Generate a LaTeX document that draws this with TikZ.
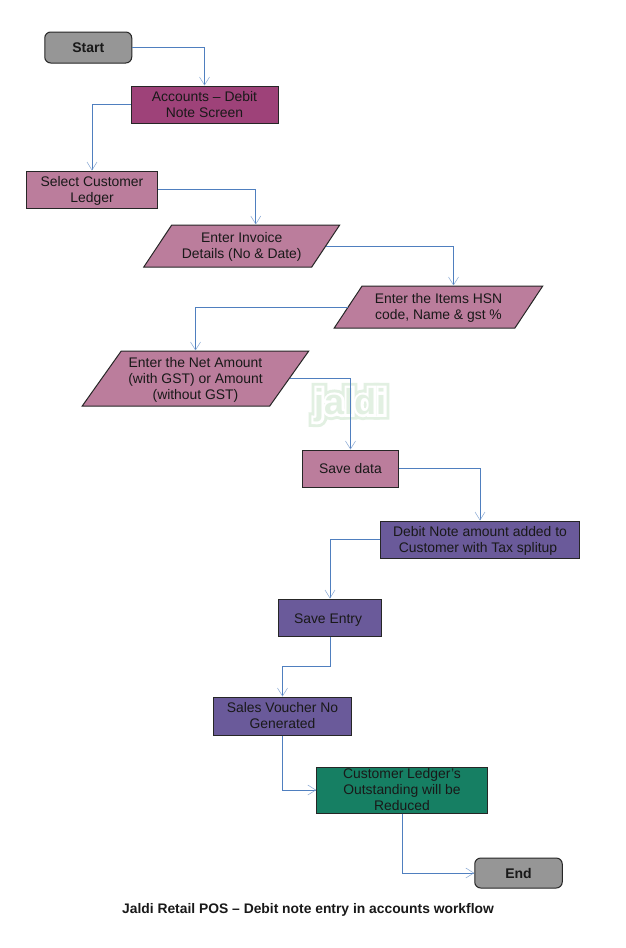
\documentclass[tikz,border=0pt]{standalone}
\usepackage{fontspec}
\setmainfont{Liberation Sans}
\newfontfamily\wmouter[FakeBold=30]{Liberation Sans}
\newfontfamily\wminner[FakeBold=14]{Liberation Sans}
\usetikzlibrary{arrows.meta,shapes.geometric,calc}
\definecolor{gstart}{HTML}{969696}
\definecolor{mag}{HTML}{9E4279}
\definecolor{pink}{HTML}{BB7D9C}
\definecolor{purp}{HTML}{6A5A9A}
\definecolor{grn}{HTML}{167F63}
\definecolor{conn}{HTML}{4F7FBF}
\definecolor{wm}{HTML}{E2F0E2}
\newcommand\dn{\rule{0pt}{12.5pt}}
\tikzset{
  base/.style={draw=black!85,line width=1pt,align=center,inner sep=0pt,text=black!90,
    font=\fontsize{13.9}{16}\selectfont},
  term/.style={base,rectangle,rounded corners=6pt,fill=gstart,
    font=\fontsize{14}{16}\selectfont\bfseries},
  para/.style={base,trapezium,trapezium stretches=true,fill=pink},
  conn/.style={draw=conn,line width=0.9pt,rounded corners=0pt,
    -{Straight Barb[length=8pt,width=10pt,line width=0.5pt,color=conn!70]}},
  wmark/.style={inner sep=0pt},
}
\begin{document}
\begin{tikzpicture}[x=1pt,y=-1pt]
\useasboundingbox[fill=white] (0,0) rectangle (626,948);
% watermark
\node[wmark,text=wm,font=\fontsize{36}{36}\selectfont\wmouter\bfseries] (wo) at (350.5,405) {jaldi};
\node[wmark,text=white,font=\fontsize{36}{36}\selectfont\wminner\bfseries] (wi) at (350.5,405) {jaldi};
\node[wmark,text=wm,font=\fontsize{36}{36}\selectfont\bfseries] (wm) at (350.5,405) {jaldi};
% nodes
\node[term,minimum width=87pt,minimum height=31pt] (start) at (88.25,47.5) {Start};
\node[base,fill=mag,minimum width=147pt,minimum height=37pt] (acc) at (204.5,104.5) {Accounts – Debit\\Note Screen};
\node[base,fill=pink,minimum width=130.5pt,minimum height=37pt] (sel) at (92,189.5) {\dn Select Customer\\Ledger};
\node[para,trapezium left angle=52.7,trapezium right angle=127.3,minimum width=196pt,minimum height=42pt] (inv) at (241.75,246) {\dn Enter Invoice\\Details (No \& Date)};
\node[para,trapezium left angle=53.5,trapezium right angle=126.5,minimum width=209pt,minimum height=42pt] (hsn) at (438.5,307) {\dn Enter the Items HSN\\code, Name \& gst \%};
\node[para,trapezium left angle=53.3,trapezium right angle=126.7,minimum width=227pt,minimum height=55pt] (net) at (195.5,378.5) {\dn Enter the Net Amount\\(with GST) or Amount\\(without GST)};
\node[base,fill=pink,minimum width=95.5pt,minimum height=37pt] (save) at (350.5,468.5) {Save data};
\node[base,fill=purp,minimum width=198.5pt,minimum height=37pt] (note) at (480,539.5) {\dn Debit Note amount added to\\\hspace*{-4pt}Customer with Tax splitup};
\node[base,fill=purp,minimum width=102.5pt,minimum height=37pt] (ent) at (330,617.5) {\rule{0pt}{14pt}\hspace*{-4pt}Save Entry};
\node[base,fill=purp,minimum width=137.5pt,minimum height=38pt] (vou) at (282.5,716) {Sales Voucher No\\Generated};
\node[base,fill=grn,minimum width=170.5pt,minimum height=46pt] (led) at (402,790) {Customer Ledger’s\\Outstanding will be\\Reduced};
\node[term,minimum width=87.5pt,minimum height=30pt] (end) at (518.5,873) {End};
\node[font=\fontsize{13.85}{16}\selectfont\bfseries,text=black!90,inner sep=0pt] (title) at (308,910) {Jaldi Retail POS – Debit note entry in accounts workflow};
% connectors
\draw[conn] (start.east) -| (acc.north);
\draw[conn] (acc.west) -| (sel.north);
\draw[conn] (sel.east) -| ([xshift=14pt]inv.north);
\draw[conn] (inv.east) -| ([xshift=15pt]hsn.north);
\draw[conn] (hsn.west) -| (net.north);
\draw[conn] (net.east) -| (save.north);
\draw[conn] (save.east) -| (note.north);
\draw[conn] (note.west) -| (ent.north);
\draw[conn] (ent.south) -- ++(0,30) -| (vou.north);
\draw[conn] (vou.south) |- (led.west);
\draw[conn] (led.south) |- (end.west);
\end{tikzpicture}
\end{document}
